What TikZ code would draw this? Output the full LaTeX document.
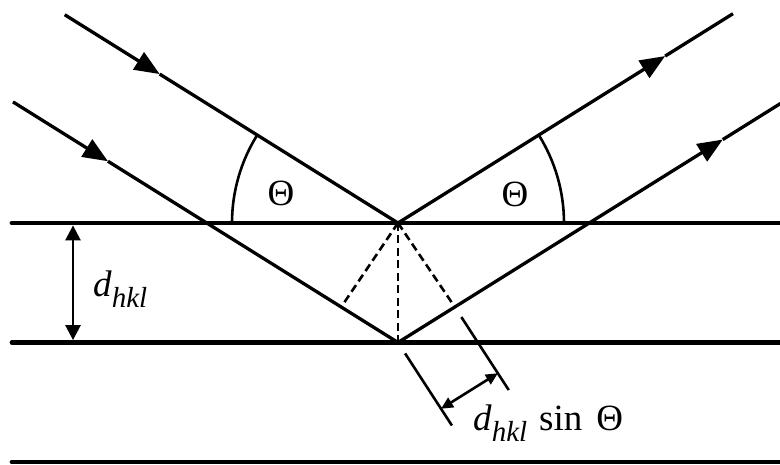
\documentclass[tikz,border=0pt]{standalone}
\usepackage{fontspec}
\setmainfont{Liberation Serif}
\usetikzlibrary{arrows.meta,calc}
\begin{document}
\begin{tikzpicture}[x=1pt,y=1pt,
  plane/.style={line width=4.8pt,line cap=round},
  ray/.style={line width=3.3pt},
  thinline/.style={line width=2.6pt},
  dsh/.style={line width=2.6pt,dash pattern=on 8pt off 4.5pt},
  bigtip/.style={-{Triangle[length=25pt,width=20pt]}},
  lbl/.style={font=\fontsize{37}{40}\selectfont,inner sep=0pt}]
\useasboundingbox (0,0) rectangle (780,464);
% reflection points
\coordinate (A) at (398,241);
\coordinate (B) at (398,121.5);
% lattice planes
\coordinate (p1l) at (12,241);  \coordinate (p1r) at (782,241);
\coordinate (p2l) at (12,121.5);\coordinate (p2r) at (782,121.5);
\coordinate (p3l) at (12,2);    \coordinate (p3r) at (782,2);
\draw[plane] (p1l) -- (p1r);
\draw[plane] (p2l) -- (p2r);
\draw[plane] (p3l) -- (p3r);
% rays
\coordinate (i1) at ($(A)+(148:393)$);
\coordinate (o1) at ($(A)+(32:395)$);
\coordinate (i2) at ($(B)+(148:454)$);
\coordinate (o2) at ($(B)+(32:452)$);
\coordinate (ai1) at ($(i1)!112pt!(A)$);
\coordinate (ai2) at ($(i2)!112pt!(B)$);
\coordinate (ao1) at ($(A)!315pt!(o1)$);
\coordinate (ao2) at ($(B)!383pt!(o2)$);
\draw[ray,bigtip] (i1) -- (ai1);
\draw[ray] (ai1) -- (A);
\draw[ray,bigtip] (i2) -- (ai2);
\draw[ray] (ai2) -- (B);
\draw[ray,bigtip] (A) -- (ao1);
\draw[ray] (ao1) -- (o1);
\draw[ray,bigtip] (B) -- (ao2);
\draw[ray] (ao2) -- (o2);
% angle arcs
\coordinate (arcL) at ($(A)+(180:166)$);
\coordinate (arcR) at ($(A)+(0:166)$);
\draw[thinline] (arcL) arc[start angle=180,end angle=148,radius=166];
\draw[thinline] (arcR) arc[start angle=0,end angle=32,radius=166];
\node[lbl] (t1) at (281,271) {Θ};
\node[lbl] (t2) at (515,270) {Θ};
% dashed construction
\coordinate (F1) at ($(B)+(148:67)$);
\coordinate (F2) at ($(B)+(32:67)$);
\draw[dsh] (A) -- (B);
\draw[dsh] (A) -- (F1);
\draw[dsh] (A) -- (F2);
% d_hkl dimension
\coordinate (v1) at (73,238.6);
\coordinate (v2) at (73,123.9);
\draw[thinline,{Triangle[length=15pt,width=15pt]}-{Triangle[length=15pt,width=15pt]}] (v1) -- (v2);
\node[lbl,anchor=base west] (dl) at (93,167) {\textit{d}\raisebox{-11pt}{\fontsize{29}{29}\selectfont\textit{hkl}}};
% d sin Theta dimension
\coordinate (e1a) at ($(B)+(-57:13)$);
\coordinate (e1b) at ($(B)+(-57:99)$);
\coordinate (e2a) at ($(F2)+(-57:12)$);
\coordinate (e2b) at ($(F2)+(-57:99)$);
\coordinate (m1) at ($(B)+(-57:79)$);
\coordinate (m2) at ($(F2)+(-57:79)$);
\draw[thinline] (e1a) -- (e1b);
\draw[thinline] (e2a) -- (e2b);
\draw[thinline,{Triangle[length=12pt,width=11pt]}-{Triangle[length=12pt,width=11pt]}] (m1) -- (m2);
\node[lbl,anchor=base west] (ds) at (473,34) {\textit{d}\raisebox{-11pt}{\fontsize{29}{29}\selectfont\textit{hkl}}\hspace{12pt}sin\hspace{14pt}Θ};
\end{tikzpicture}
\end{document}
